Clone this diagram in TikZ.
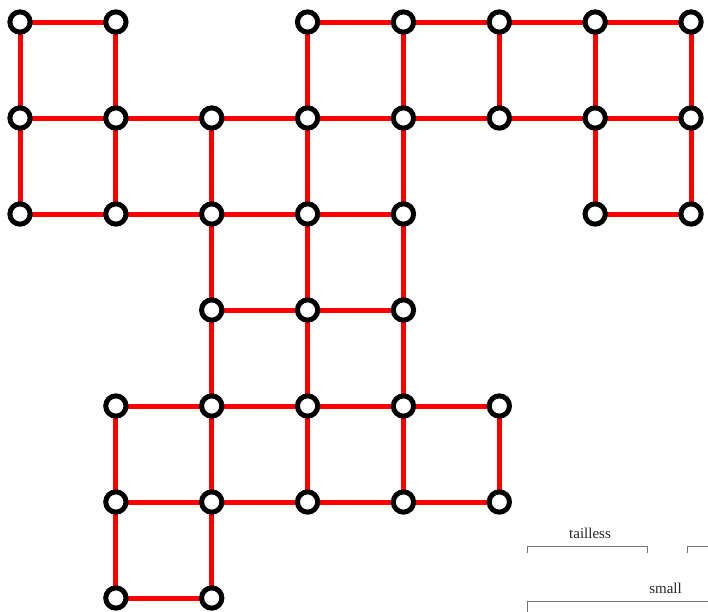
\documentclass[tikz,border=0pt]{standalone}
\usepackage{fontspec}
\setmainfont{Liberation Serif}
\usetikzlibrary{backgrounds}
\begin{document}
\begin{tikzpicture}[x=1pt,y=-1pt,
  vtx/.style={circle,draw=black,fill=white,line width=5pt,minimum size=20.3pt,inner sep=0pt},
  edge/.style={draw=red,line width=5pt},
  brk/.style={draw=black!55,line width=1pt},
  lbl/.style={font=\fontsize{15}{18}\selectfont,anchor=base,text=black!85}]
\useasboundingbox (0,0) rectangle (708,611);
\clip (0,0) rectangle (708,611);
% vertices: column/row
\foreach \c/\r in {0/0,1/0,3/0,4/0,5/0,6/0,7/0,
                   0/1,1/1,2/1,3/1,4/1,5/1,6/1,7/1,
                   0/2,1/2,2/2,3/2,4/2,6/2,7/2,
                   2/3,3/3,4/3,
                   1/4,2/4,3/4,4/4,5/4,
                   1/5,2/5,3/5,4/5,5/5,
                   1/6,2/6}
  \node[vtx] (n\c\r) at ({20+95.86*\c},{22+96*\r}) {};
\begin{scope}[on background layer]
% horizontal edges
\foreach \a/\b/\r in {0/1/0,3/4/0,4/5/0,5/6/0,6/7/0,
                      0/1/1,1/2/1,2/3/1,3/4/1,4/5/1,5/6/1,6/7/1,
                      0/1/2,1/2/2,2/3/2,3/4/2,6/7/2,
                      2/3/3,3/4/3,
                      1/2/4,2/3/4,3/4/4,4/5/4,
                      1/2/5,2/3/5,3/4/5,4/5/5,
                      1/2/6}
  \draw[edge] (n\a\r.center) -- (n\b\r.center);
% vertical edges
\foreach \c/\a/\b in {0/0/1,0/1/2,
                      1/0/1,1/1/2,1/4/5,1/5/6,
                      2/1/2,2/2/3,2/3/4,2/4/5,2/5/6,
                      3/0/1,3/1/2,3/2/3,3/3/4,3/4/5,
                      4/0/1,4/1/2,4/2/3,4/3/4,4/4/5,
                      5/0/1,5/4/5,
                      6/0/1,6/1/2,
                      7/0/1,7/1/2}
  \draw[edge] (n\c\a.center) -- (n\c\b.center);
\end{scope}
% brackets
\coordinate (t1) at (527.5,553);
\coordinate (t2) at (647.5,553);
\coordinate (u1) at (687.5,553);
\coordinate (u2) at (715,546.5);
\coordinate (s1) at (527.5,615);
\coordinate (s2) at (715,601.5);
\draw[brk] (t1) |- (t2 |- 0,546.5) -- (t2);
\draw[brk] (u1) |- (u2);
\draw[brk] (s1) |- (s2);
\node[lbl] (tl) at (590,538.5) {tailless};
\node[lbl] (sm) at (665.5,593.5) {small};
\end{tikzpicture}
\end{document}
